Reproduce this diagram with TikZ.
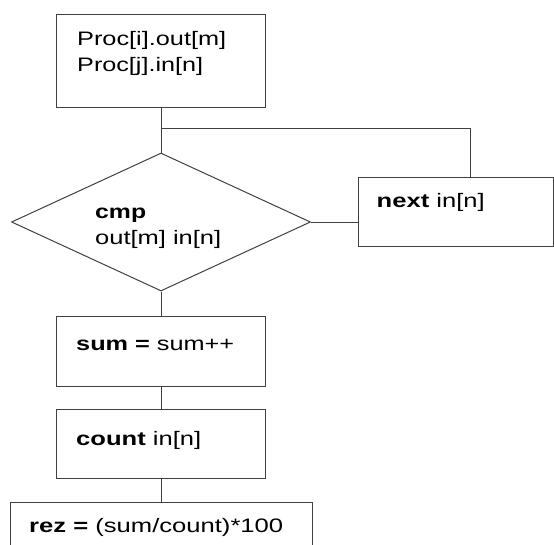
\documentclass[tikz,border=0pt]{standalone}
\usepackage{fontspec}
\usepackage{graphicx}
\setmainfont{Liberation Sans}
\usetikzlibrary{shapes.geometric,calc}
\newcommand\stx[2]{\resizebox{#1pt}{\height}{#2}}
\begin{document}
\begin{tikzpicture}[x=1pt,y=-1pt,
  box/.style={draw=black!75,line width=1pt,rectangle,inner sep=0pt},
  conn/.style={draw=black!75,line width=1pt},
  lbl/.style={anchor=base west,inner sep=0pt,font=\fontsize{19.5}{26}\selectfont}]
\useasboundingbox (0,0) rectangle (554,544);
\clip (0,0) rectangle (554,544);
\node[box,minimum width=209pt,minimum height=93pt] (top) at (161,60.5) {};
\node[box,diamond,minimum width=299pt,minimum height=138pt] (dia) at (161,222) {};
\node[box,minimum width=195pt,minimum height=69pt] (next) at (455.5,211.5) {};
\node[box,minimum width=209pt,minimum height=70pt] (sum) at (161,351) {};
\node[box,minimum width=209pt,minimum height=69pt] (count) at (161,443.5) {};
\node[box,minimum width=302pt,minimum height=46pt] (rez) at (161,525) {};
\coordinate (br) at (161,128);
\coordinate (nx) at (470,128);
\draw[conn] (top.south) -- (dia.north);
\draw[conn] (br) -- (nx) -- (nx |- next.north);
\draw[conn] (dia.east) -- (dia.east -| next.west);
\draw[conn] (dia.south) -- (sum.north);
\draw[conn] (sum.south) -- (count.north);
\draw[conn] (count.south) -- (rez.north);
\node[lbl] (t1) at (77,45) {\stx{149}{Proc[i].out[m]}};
\node[lbl] (t2) at (77,71) {\stx{126}{Proc[j].in[n]}};
\node[lbl] (d1) at (95,218) {\stx{51}{\textbf{cmp}}};
\node[lbl] (d2) at (95,244) {\stx{126}{out[m] in[n]}};
\node[lbl] (n1) at (376.5,207) {\stx{108}{\textbf{next} in[n]}};
\node[lbl] (s1) at (76,350) {\stx{158}{\textbf{sum =} sum++}};
\node[lbl] (c1) at (76,445) {\stx{125}{\textbf{count} in[n]}};
\node[lbl] (r1) at (29,532) {\stx{254}{\textbf{rez =} (sum/count)*100}};
\end{tikzpicture}
\end{document}
